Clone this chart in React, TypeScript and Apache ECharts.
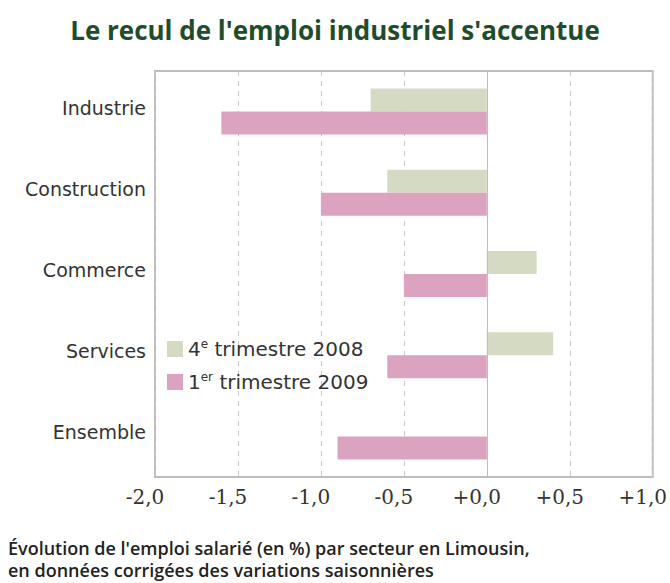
import React, { useEffect, useRef } from "react";
import * as echarts from "echarts";

const categories = ["Industrie", "Construction", "Commerce", "Services", "Ensemble"];
const seriesNames = ["4e trimestre 2008", "1er trimestre 2009"];
const q4_2008 = [-0.7, -0.6, 0.3, 0.4, 0];
const q1_2009 = [-1.6, -1.0, -0.5, -0.6, -0.9];
const xTicks = { min: -2, max: 1, interval: 0.5 };
const titleText = "Le recul de l'emploi industriel s'accentue";
const footLines = [
  "Évolution de l'emploi salarié (en %) par secteur en Limousin,",
  "en données corrigées des variations saisonnières",
];

export default function App() {
  const ref = useRef<HTMLDivElement>(null);
  useEffect(() => {
    if (!ref.current) return;
    document.body.style.margin = "0";
    const chart = echarts.init(ref.current, undefined, { renderer: "svg" });
    const sans = "'Open Sans', 'DejaVu Sans', sans-serif";
    const wide = "'DejaVu Sans', sans-serif";
    chart.setOption({
      animation: false,
      backgroundColor: "#ffffff",
      title: {
        text: titleText,
        left: "center",
        top: 12,
        textStyle: { fontFamily: sans, fontWeight: 700, fontSize: 26, color: "#1f4d2b" },
      },
      legend: {
        orient: "vertical",
        left: 162,
        top: 333,
        itemWidth: 16,
        itemHeight: 16,
        itemGap: 12,
        icon: "rect",
        data: seriesNames,
        formatter: (name: string) =>
          name === seriesNames[0]
            ? "4{sup|e} trimestre 2008"
            : "1{sup|er} trimestre 2009",
        textStyle: {
          fontFamily: wide,
          fontSize: 20,
          color: "#333",
          rich: {
            sup: { fontFamily: wide, fontSize: 12, color: "#333", padding: [0, 0, 10, 0] },
          },
        },
      },
      grid: {
        left: 155,
        right: 17,
        top: 71,
        bottom: 106,
        show: true,
        borderColor: "#bdbdbd",
        borderWidth: 2,
        containLabel: false,
      },
      xAxis: {
        type: "value",
        min: xTicks.min,
        max: xTicks.max,
        interval: xTicks.interval,
        axisLine: { show: false },
        axisTick: { show: false },
        splitLine: { show: true, lineStyle: { color: "#c8c8c8", type: [5, 5], width: 1 } },
        axisLabel: {
          margin: 10,
          fontFamily: "'DejaVu Serif', serif",
          fontSize: 20,
          color: "#333",
          padding: [0, 20, 0, 0],
          formatter: (v: number) => (v >= 0 ? "+" : "") + v.toFixed(1).replace(".", ","),
        },
      },
      yAxis: {
        type: "category",
        inverse: true,
        data: categories,
        axisLine: { show: false },
        axisTick: { show: false },
        splitLine: { show: false },
        axisLabel: {
          margin: 9,
          fontFamily: wide,
          fontSize: 19,
          color: "#333",
          verticalAlign: "bottom",
          lineHeight: 8,
        },
      },
      series: [
        {
          name: seriesNames[0],
          type: "bar",
          data: q4_2008,
          barWidth: 23,
          barGap: "0%",
          itemStyle: { color: "#d5dbc3" },
          markLine: {
            silent: true,
            symbol: "none",
            label: { show: false },
            lineStyle: { color: "#bdbdbd", type: "solid", width: 1 },
            data: [{ xAxis: 0 }],
          },
        },
        {
          name: seriesNames[1],
          type: "bar",
          data: q1_2009,
          barWidth: 23,
          barGap: "0%",
          itemStyle: { color: "#dba3c0" },
        },
      ],
      graphic: footLines.map((t, i) => ({
        type: "text",
        left: 8,
        top: 539 + i * 22,
        style: {
          text: t,
          fontFamily: sans,
          fontWeight: 600,
          fontSize: 18,
          fill: "#222",
        },
      })),
    });
    return () => chart.dispose();
  }, []);
  return <div ref={ref} style={{ width: 670, height: 583 }} />;
}
